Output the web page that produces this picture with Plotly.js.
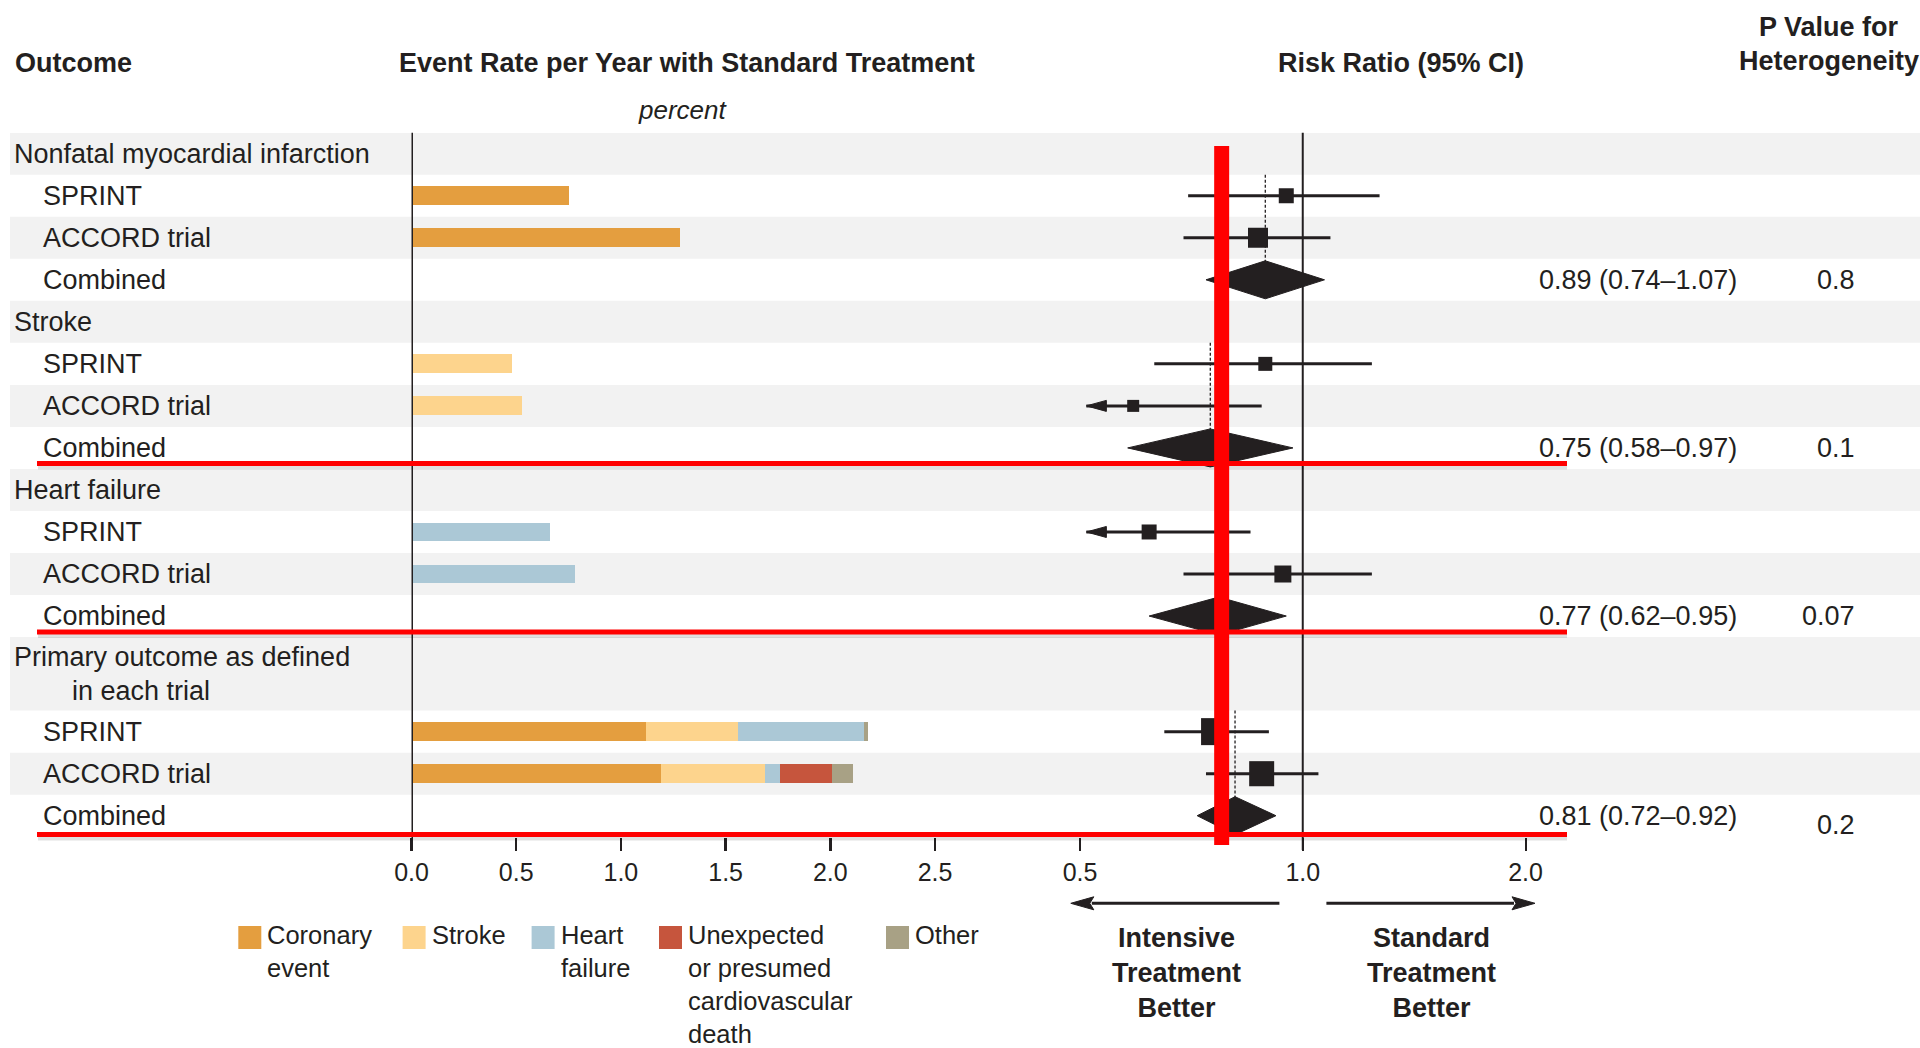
<!DOCTYPE html>
<html><head><meta charset="utf-8">
<script src="https://cdn.plot.ly/plotly-3.0.1.min.js"></script>
<style>html,body{margin:0;padding:0;background:#fff;overflow:hidden}#chart{width:1920px;height:1048px}</style>
</head><body><div id="chart"></div>
<script>
// ---------------- DATA ----------------
const groupLabelLines = [
  ["Nonfatal myocardial infarction"],
  ["Stroke"],
  ["Heart failure"],
  ["Primary outcome as defined", "in each trial"]
];
const trialNames = ["SPRINT", "ACCORD trial", "Combined"];
const componentNames = ["Coronary event", "Stroke", "Heart failure", "Unexpected or presumed cardiovascular death", "Other"];
const componentLegend = ["Coronary<br>event", "Stroke", "Heart<br>failure", "Unexpected<br>or presumed<br>cardiovascular<br>death", "Other"];

// event rate per year with standard treatment (%), order: MI SPRINT, MI ACCORD, Stroke SPRINT, Stroke ACCORD, HF SPRINT, HF ACCORD, Primary SPRINT, Primary ACCORD
const rateCoronary     = [0.75, 1.28, null, null, null, null, 1.12, 1.19];
const rateStroke       = [null, null, 0.48, 0.53, null, null, 0.44, 0.50];
const rateHeartFailure = [null, null, null, null, 0.66, 0.78, 0.60, 0.07];
const rateCVDeath      = [null, null, null, null, null, null, null, 0.25];
const rateOther        = [null, null, null, null, null, null, 0.02, 0.10];

// risk ratios per trial (same order)
const trialRR     = [0.95, 0.87, 0.89, 0.59, 0.62, 0.94, 0.76, 0.88];
const trialLower  = [0.70, 0.69, 0.63, 0.39, 0.45, 0.69, 0.65, 0.74];
const trialUpper  = [1.27, 1.09, 1.24, 0.88, 0.85, 1.24, 0.90, 1.05];
const trialWeight = [15, 20, 14, 12, 15, 17, 27, 25];

// combined estimates per outcome
const combinedRR    = [0.89, 0.75, 0.77, 0.81];
const combinedLower = [0.74, 0.58, 0.62, 0.72];
const combinedUpper = [1.07, 0.97, 0.95, 0.92];
const pHeterogeneity = ["0.8", "0.1", "0.07", "0.2"];

const rateTicks = [0, 0.5, 1.0, 1.5, 2.0, 2.5];
const rrTicks = [0.5, 1.0, 2.0];
const rrTickText = ["0.5", "1.0", "2.0"];
const markedRR = 0.777;   // red highlight line drawn on the figure
const rrClip = 0.51;      // lower display limit of CIs (arrow)

// ---------------- STYLE / LAYOUT ----------------
const W = 1920, H = 1048;
const px = v => v / W, py = v => 1 - v / H;
const FONT = "Liberation Sans, Arial, sans-serif";
const INK = "#231F20";
const compColors = ["#E49E3F", "#FDD48D", "#ABC8D6", "#C6553D", "#A8A185"];
const compRates = [rateCoronary, rateStroke, rateHeartFailure, rateCVDeath, rateOther];

// rows
const rowY = [], rowKind = [];
let acc = -0.5;
groupLabelLines.forEach((lines, g) => {
  const span = lines.length > 1 ? 1.75 : 1;
  rowY.push({c: acc + span / 2, top: acc, bot: acc + span}); rowKind.push({type: "header", g});
  acc += span;
  trialNames.forEach((t, ti) => {
    rowY.push({c: acc + 0.5, top: acc, bot: acc + 1}); rowKind.push({type: "trial", g, t: ti});
    acc += 1;
  });
});
const yMax = acc;
const trialY = [], combY = [], headerY = [], sprintTop = [];
rowKind.forEach((k, i) => {
  if (k.type === "header") headerY[k.g] = rowY[i].c;
  else if (k.t < 2) { trialY[k.g * 2 + k.t] = rowY[i].c; if (k.t === 0) sprintTop[k.g] = rowY[i].top; }
  else combY[k.g] = rowY[i].c;
});

// axis geometry (pixels)
const rate0 = 411.5, rateUnit = 209.4, rateEnd = 960;
const rrPx05 = 1080, rrPx2 = 1525.5;
const pxPerLog = (rrPx2 - rrPx05) / (Math.log10(2) - Math.log10(0.5));
const rrDom = [1060, 1545];
const rrRange = [Math.log10(0.5) - (rrPx05 - rrDom[0]) / pxPerLog, Math.log10(2) + (rrDom[1] - rrPx2) / pxPerLog];
const yTopPx = 132.7, yBotPx = 836.7;
const unitPx = (yBotPx - yTopPx) / (yMax + 0.5);

const traces = [];
// stacked bars
compRates.forEach((arr, ci) => {
  traces.push({type: "bar", orientation: "h", name: componentNames[ci], x: arr, y: trialY,
    xaxis: "x", yaxis: "y", width: 0.45, marker: {color: compColors[ci], line: {width: 0}},
    showlegend: false, hoverinfo: "skip"});
});
// dashed lines at combined estimate
combinedRR.forEach((v, g) => {
  traces.push({type: "scatter", mode: "lines", x: [v, v], y: [sprintTop[g], combY[g]], xaxis: "x2", yaxis: "y",
    line: {color: INK, width: 1.3, dash: "3px,2px"}, showlegend: false, hoverinfo: "skip"});
});
// CI lines
const ciX = [], ciY = [];
trialRR.forEach((v, i) => { ciX.push(Math.max(trialLower[i], rrClip), trialUpper[i], null); ciY.push(trialY[i], trialY[i], null); });
traces.push({type: "scatter", mode: "lines", x: ciX, y: ciY, xaxis: "x2", yaxis: "y",
  line: {color: INK, width: 3}, showlegend: false, hoverinfo: "skip"});
// arrows for truncated CIs
const arrowF = Math.pow(10, 20 / pxPerLog), arrowH = 5.5 / unitPx;
trialLower.forEach((lo, i) => {
  if (lo < rrClip) {
    traces.push({type: "scatter", mode: "lines", fill: "toself", fillcolor: INK,
      x: [rrClip, rrClip * arrowF, rrClip * arrowF, rrClip], y: [trialY[i], trialY[i] - arrowH, trialY[i] + arrowH, trialY[i]],
      xaxis: "x2", yaxis: "y", line: {color: INK, width: 1}, showlegend: false, hoverinfo: "skip"});
  }
});
// squares
traces.push({type: "scatter", mode: "markers", x: trialRR, y: trialY, xaxis: "x2", yaxis: "y",
  marker: {symbol: "square", size: trialWeight, color: INK, opacity: 1, line: {width: 0}}, showlegend: false, hoverinfo: "skip"});
// diamonds
const dh = 19 / unitPx;
combinedRR.forEach((v, g) => {
  const y = combY[g];
  traces.push({type: "scatter", mode: "lines", fill: "toself", fillcolor: INK,
    x: [combinedLower[g], v, combinedUpper[g], v, combinedLower[g]], y: [y, y - dh, y, y + dh, y],
    xaxis: "x2", yaxis: "y", line: {color: INK, width: 1}, showlegend: false, hoverinfo: "skip"});
});

// shapes
const shapes = [];
rowKind.forEach((k, i) => {
  const gray = k.type === "header" || k.t === 1;
  if (gray) shapes.push({type: "rect", layer: "below", xref: "paper", yref: "y", x0: px(10), x1: 1,
    y0: rowY[i].top, y1: rowY[i].bot, fillcolor: "#F2F2F2", line: {width: 0}});
});
shapes.push({type: "line", layer: "above", xref: "x", yref: "paper", x0: 0, x1: 0, y0: py(yTopPx), y1: py(850), line: {color: INK, width: 3}});
shapes.push({type: "line", layer: "below", xref: "x2", yref: "paper", x0: 1, x1: 1, y0: py(yTopPx), y1: py(850), line: {color: INK, width: 2}});
// red highlight overlay
[463.5, 632, 834.5].forEach(yp => {
  shapes.push({type: "line", layer: "above", xref: "paper", yref: "paper", x0: px(38), x1: px(1567), y0: py(yp + 4), y1: py(yp + 4), line: {color: "rgba(0,0,0,0.12)", width: 4}});
  shapes.push({type: "line", layer: "above", xref: "paper", yref: "paper", x0: px(37), x1: px(1567), y0: py(yp), y1: py(yp), line: {color: "#FF0000", width: 5}});
});
shapes.push({type: "line", layer: "above", xref: "x2", yref: "paper", x0: markedRR, x1: markedRR, y0: py(146), y1: py(845), line: {color: "#FF0000", width: 15}});
// direction arrows under risk-ratio axis
function arrowShapes(tail, tip, y) {
  const dir = tip > tail ? 1 : -1, base = tip - dir * 23;
  shapes.push({type: "line", xref: "paper", yref: "paper", x0: px(tail), x1: px(base + dir * 2), y0: py(y), y1: py(y), line: {color: INK, width: 3}});
  shapes.push({type: "path", xref: "paper", yref: "paper",
    path: `M${px(tip)},${py(y)} L${px(base)},${py(y - 6.5)} L${px(base + dir * 4)},${py(y)} L${px(base)},${py(y + 6.5)} Z`,
    fillcolor: INK, line: {color: INK, width: 1}});
}
arrowShapes(1279.4, 1070.8, 903.3);
arrowShapes(1326.4, 1535, 903.3);
// legend swatches
const legSwX = [238.3, 402.6, 531.6, 659, 886];
legSwX.forEach((x, i) => shapes.push({type: "rect", xref: "paper", yref: "paper", x0: px(x), x1: px(x + 23), y0: py(926), y1: py(949), fillcolor: compColors[i], line: {width: 0}}));

// annotations
const ann = [];
const txt = (text, x, y, opts = {}) => Object.assign({text, x: px(x), y: typeof y === "number" ? py(y) : y, xref: "paper", yref: "paper",
  showarrow: false, xanchor: "left", yanchor: "middle", font: {family: FONT, size: 27, color: INK}}, opts);
ann.push(txt("<b>Outcome</b>", 13, 63));
ann.push(txt("<b>Event Rate per Year with Standard Treatment</b>", 686.6, 63, {xanchor: "center"}));
ann.push(txt("<i>percent</i>", 682, 110, {xanchor: "center", font: {family: FONT, size: 26, color: INK}}));
ann.push(txt("<b>Risk Ratio (95% CI)</b>", 1400.5, 63, {xanchor: "center"}));
ann.push(txt("<b>P Value for</b>", 1829, 27, {xanchor: "center"}));
ann.push(txt("<b>Heterogeneity</b>", 1829, 61, {xanchor: "center"}));

rowKind.forEach((k, i) => {
  if (k.type === "header") {
    const lines = groupLabelLines[k.g];
    if (lines.length === 1) ann.push(txt(lines[0], 12, null, {yref: "y", y: rowY[i].c}));
    else {
      ann.push(txt(lines[0], 12, null, {yref: "y", y: rowY[i].c, yshift: 17}));
      ann.push(txt(lines[1], 70, null, {yref: "y", y: rowY[i].c, yshift: -17}));
    }
  } else {
    ann.push(txt(trialNames[k.t], 41, null, {yref: "y", y: rowY[i].c}));
  }
});
combinedRR.forEach((v, g) => {
  ann.push(txt(`${v.toFixed(2)} (${combinedLower[g].toFixed(2)}\u2013${combinedUpper[g].toFixed(2)})`, 1537, null, {yref: "y", y: combY[g]}));
  ann.push(txt(pHeterogeneity[g], 1857, null, {yref: "y", y: combY[g], xanchor: "right", yshift: g === 3 ? -9 : 0}));
});
componentLegend.forEach((t, i) => ann.push(txt(t, legSwX[i] + 27, 919, {yanchor: "top", align: "left", font: {family: FONT, size: 25.5, color: INK}})));
ann.push(txt("<b>Intensive<br>Treatment<br>Better</b>", 1176, 973.3, {xanchor: "center", align: "center"}));
ann.push(txt("<b>Standard<br>Treatment<br>Better</b>", 1431.5, 973.3, {xanchor: "center", align: "center"}));

const axisCommon = {showgrid: false, zeroline: false, showline: false, ticks: "outside", ticklen: 13,
  tickcolor: INK, tickfont: {family: FONT, size: 25, color: INK}, anchor: "y", fixedrange: true};
const layout = {
  width: W, height: H, margin: {l: 0, r: 0, t: 0, b: 0}, autosize: false,
  paper_bgcolor: "#fff", plot_bgcolor: "rgba(0,0,0,0)", barmode: "stack", showlegend: false,
  font: {family: FONT, color: INK},
  xaxis: Object.assign({}, axisCommon, {domain: [px(rate0), px(rateEnd)], range: [0, (rateEnd - rate0) / rateUnit],
    tickvals: rateTicks, tickformat: ".1f", tickwidth: 2.5}),
  xaxis2: Object.assign({}, axisCommon, {type: "log", domain: [px(rrDom[0]), px(rrDom[1])], range: rrRange,
    tickvals: rrTicks, ticktext: rrTickText, tickwidth: 2}),
  yaxis: {domain: [py(yBotPx), py(yTopPx)], range: [yMax, -0.5], showgrid: false, zeroline: false, showline: false,
    showticklabels: false, ticks: "", fixedrange: true},
  shapes, annotations: ann
};
Plotly.newPlot("chart", traces, layout, {displayModeBar: false, staticPlot: true});
</script></body></html>
